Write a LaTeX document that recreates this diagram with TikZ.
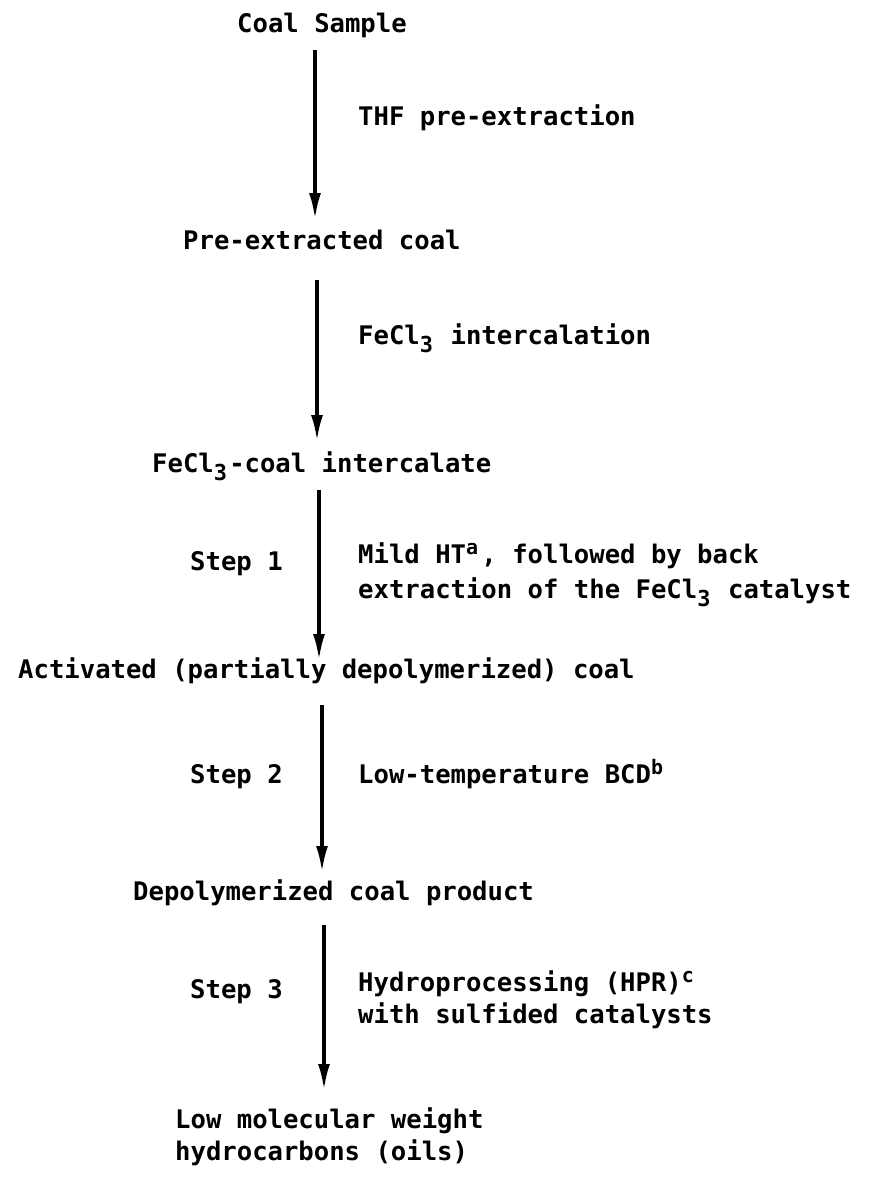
\documentclass[tikz,border=0pt]{standalone}
\usepackage{fontspec}
\setmonofont{DejaVu Sans Mono}
\usetikzlibrary{arrows.meta}
\newcommand{\chsub}[1]{\makebox[15.4pt][l]{\raisebox{-8.5pt}{\fontsize{22}{22}\selectfont #1}}}
\newcommand{\chsup}[1]{\makebox[15.4pt][l]{\raisebox{9pt}{\fontsize{20}{20}\selectfont #1}}}
\begin{document}
\begin{tikzpicture}[x=1pt,y=-1pt,
  lbl/.style={anchor=base west, inner sep=0pt, font=\ttfamily\bfseries\fontsize{25.6}{32}\selectfont},
  flow/.style={line width=3.8pt, -{Latex[length=27pt,width=12pt]}}]
\useasboundingbox[fill=white] (0,0) rectangle (871,1181);

% main stages
\node[lbl] (coal) at (237,32) {Coal Sample};
\node[lbl] (pre) at (183,249) {Pre-extracted coal};
\node[lbl] (inter) at (152,472) {FeCl\chsub{3}-coal intercalate};
\node[lbl] (act) at (18,678) {Activated (partially depolymerized) coal};
\node[lbl] (dep) at (133,900) {Depolymerized coal product};
\node[lbl] (low1) at (175,1128) {Low molecular weight};
\node[lbl] (low2) at (175,1160) {hydrocarbons (oils)};

% process labels
\node[lbl] (thf) at (358,125) {THF pre-extraction};
\node[lbl] (fec) at (358,344) {FeCl\chsub{3} intercalation};
\node[lbl] (s1) at (190,570) {Step 1};
\node[lbl] (mild1) at (358,563) {Mild HT\chsup{a}, followed by back};
\node[lbl] (mild2) at (358,598) {extraction of the FeCl\chsub{3} catalyst};
\node[lbl] (s2) at (190,783) {Step 2};
\node[lbl] (bcd) at (358,783) {Low-temperature BCD\chsup{b}};
\node[lbl] (s3) at (190,998) {Step 3};
\node[lbl] (hpr1) at (358,991) {Hydroprocessing (HPR)\chsup{c}};
\node[lbl] (hpr2) at (358,1023) {with sulfided catalysts};

% arrow end points
\coordinate (a1s) at (315,50);  \coordinate (a1e) at (315,220);
\coordinate (a2s) at (317,280); \coordinate (a2e) at (317,442);
\coordinate (a3s) at (319,490); \coordinate (a3e) at (319,661);
\coordinate (a4s) at (322,705); \coordinate (a4e) at (322,873);
\coordinate (a5s) at (324,925); \coordinate (a5e) at (324,1091);

\draw[flow] (a1s) -- (a1e);
\draw[flow] (a2s) -- (a2e);
\draw[flow] (a3s) -- (a3e);
\draw[flow] (a4s) -- (a4e);
\draw[flow] (a5s) -- (a5e);
\end{tikzpicture}
\end{document}
